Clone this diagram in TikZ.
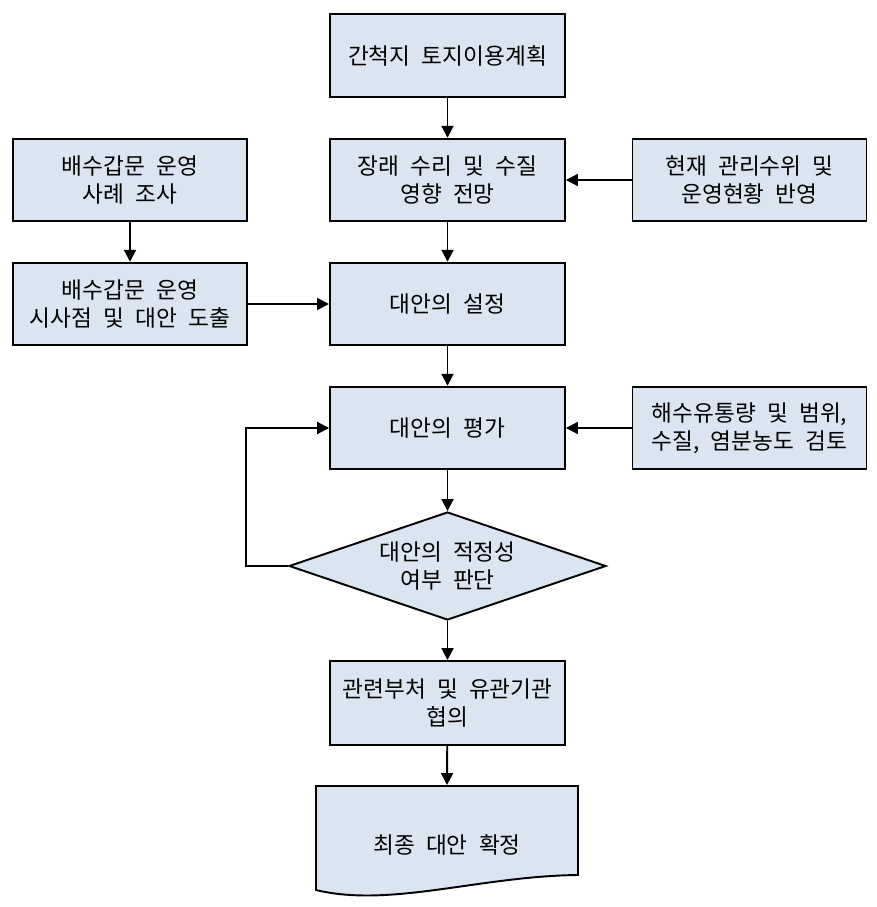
\documentclass[tikz,border=0pt]{standalone}
\usepackage{fontspec}
\setmainfont{Noto Sans CJK KR}[WordSpace=2.2]
\usetikzlibrary{%
  arrows.meta,%
  shapes.geometric,% wg. diamond
  positioning%
}

\begin{document}
\begin{tikzpicture}
[draw=black, line width=1.1pt, >={Triangle[length=0.24cm,width=0.24cm]},
box/.style={rectangle, draw, fill=boxblue, inner sep=0pt, align=center,
  minimum width=4.7cm, minimum height=1.65cm, font=\fontsize{12.9}{15.9}\selectfont},
sidebox/.style={box, minimum width=4.68cm},
decision/.style={diamond, draw, fill=boxblue, inner sep=0pt, aspect=2.93, align=center,
  minimum width=6.34cm, minimum height=2.16cm, font=\fontsize{12.9}{15.9}\selectfont},
document/.style={rectangle, inner sep=0pt, align=center, minimum width=5.24cm,
  minimum height=2.36cm, font=\fontsize{12.9}{15.9}\selectfont}]
\definecolor{boxblue}{RGB}{219,229,241}

\useasboundingbox (0,0) rectangle (17.52,-18.14);

% middle column
\node[box] (plan) at (8.95,-1.11) {간척지 토지이용계획};
\node[box] (forecast) at (8.95,-3.6) {장래 수리 및 수질\\영향 전망};
\node[box] (setup) at (8.95,-6.08) {대안의 설정};
\node[box] (evaluate) at (8.95,-8.56) {대안의 평가};
\node[decision] (judge) at (8.95,-11.32) {대안의 적정성\\여부 판단};
\node[box, minimum height=1.68cm] (consult) at (8.95,-14.06) {관련부처 및 유관기관\\협의};

% left column
\node[sidebox] (case) at (2.6,-3.6) {배수갑문 운영\\사례 조사};
\node[sidebox] (derive) at (2.6,-6.08) {배수갑문 운영\\시사점 및 대안 도출};

% right column
\node[sidebox] (status) at (14.99,-3.6) {현재 관리수위 및\\운영현황 반영};
\node[sidebox] (review) at (14.99,-8.56) {해수유통량 및 범위,\\수질, 염분농도 검토};

% final document
\draw[fill=boxblue] (6.32,-15.72) -- (11.56,-15.72) -- (11.56,-17.5)
  .. controls (9.6,-17.52) and (7.8,-18.16) .. (6.32,-17.8) -- cycle;
\node[document] (final) at (8.94,-16.9) {최종 대안 확정};

% arrows
\draw[->] (plan) -- (forecast);
\draw[->] (status) -- (forecast);
\draw[->] (case) -- (derive);
\draw[->] (forecast) -- (setup);
\draw[->] (derive) -- (setup);
\draw[->] (setup) -- (evaluate);
\draw[->] (review) -- (evaluate);
\draw[->] (evaluate) -- (judge);
\draw[->] (judge.west) -- ++(-0.84,0) |- (evaluate.west);
\draw[->] (judge) -- (consult);
\draw[->] (consult) -- (final.north);

\end{tikzpicture}
\end{document}
